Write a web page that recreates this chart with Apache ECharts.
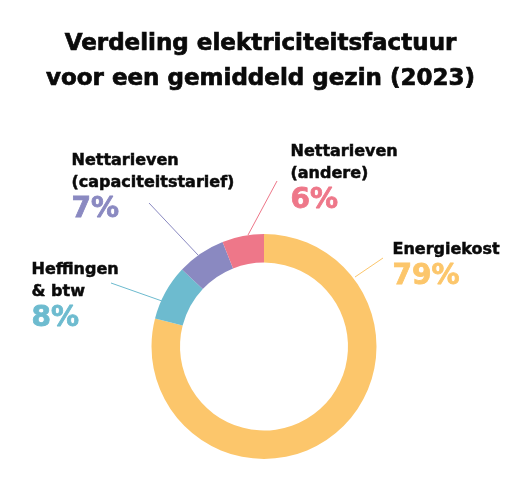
<!DOCTYPE html>
<html><head><meta charset="utf-8">
<script src="https://cdn.jsdelivr.net/npm/echarts@6/dist/echarts.min.js"></script>
<style>html,body{margin:0;padding:0;background:#fff}#c{width:521px;height:481px}</style>
</head><body><div id="c"></div>
<script>
const titleLines = ['Verdeling elektriciteitsfactuur', 'voor een gemiddeld gezin (2023)'];
const categories = ['Energiekost', 'Heffingen\n& btw', 'Nettarieven\n(capaciteitstarief)', 'Nettarieven\n(andere)'];
const values = [79, 8, 7, 6];
const colors = ['#FCC66B', '#6DBBCF', '#8A89C1', '#EE7789'];
// label anchor (top-left) and label line points, per slice
const labelPos = [[392.5, 238.5], [31.5, 258.5], [71.5, 149.5], [290.5, 140.8]];
const linePts = [
  [[355, 277], [383, 258]],
  [[162, 301], [111, 283]],
  [[198, 255], [149, 203]],
  [[248, 235], [277, 181]]
];
const FONT = '"DejaVu Sans", sans-serif';
const INK = '#0a0a0a';
const chart = echarts.init(document.getElementById('c'), null, {renderer: 'canvas'});
chart.setOption({
  backgroundColor: '#ffffff',
  animation: false,
  title: {
    text: titleLines.join('\n'),
    left: 'center', top: 21.5,
    textStyle: {fontFamily: FONT, fontWeight: 'bold', fontSize: 23, lineHeight: 35, color: INK,
      textBorderColor: INK, textBorderWidth: 0.7}
  },
  series: [{
    type: 'pie',
    center: [264, 346.5],
    radius: [84, 112.5],
    startAngle: 90,
    clockwise: true,
    avoidLabelOverlap: false,
    data: categories.map((c, i) => ({name: c, value: values[i], itemStyle: {color: colors[i]},
      label: {rich: {p: {color: colors[i], textBorderColor: colors[i]}}},
      labelLine: {lineStyle: {color: colors[i]}}})),
    label: {
      show: true,
      formatter: p => '{n|' + p.name.split('\n').join('}\n{n|') + '}\n{p|' + p.value + '%}',
      rich: {
        n: {fontFamily: FONT, fontWeight: 'bold', fontSize: 16, lineHeight: 22, color: INK,
          textBorderColor: INK, textBorderWidth: 0.5},
        p: {fontFamily: FONT, fontWeight: 'bold', fontSize: 28, lineHeight: 31.6, textBorderWidth: 0.8}
      }
    },
    labelLine: {show: true, lineStyle: {width: 1}},
    labelLayout: function (params) {
      const i = params.dataIndex;
      const lp = linePts[i];
      return {
        x: labelPos[i][0], y: labelPos[i][1], align: 'left', verticalAlign: 'top',
        labelLinePoints: [lp[0], lp[1], lp[1]]
      };
    }
  }]
});
</script></body></html>
